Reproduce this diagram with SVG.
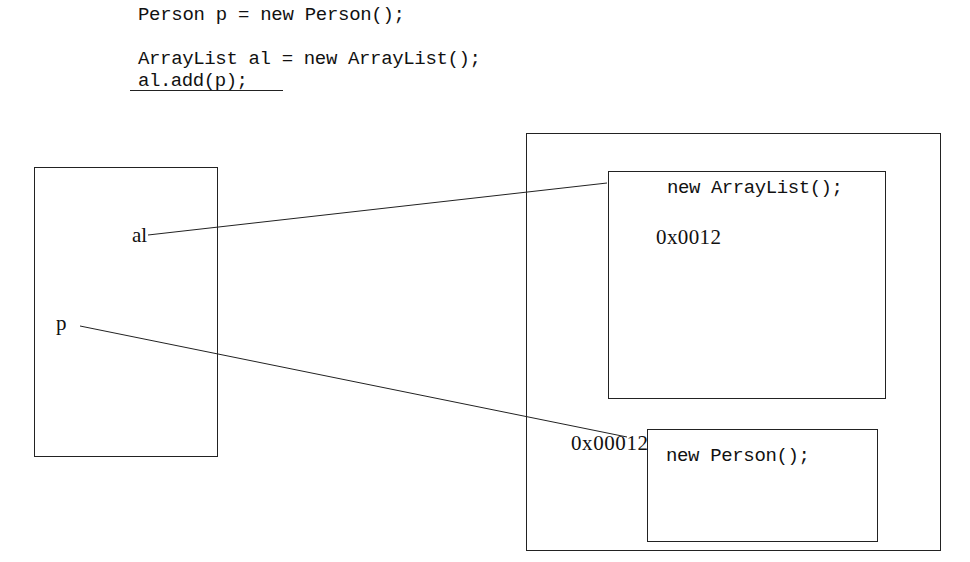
<svg xmlns="http://www.w3.org/2000/svg" width="970" height="562" viewBox="0 0 970 562">
<style>
text{font-family:"Liberation Mono","DejaVu Sans Mono",monospace;font-size:19px;fill:#111}
text.s{font-family:"Liberation Serif","Times New Roman",serif;font-size:21px}
.box{fill:none;stroke:#222;stroke-width:1}
.ln{stroke:#222;stroke-width:1;fill:none}
</style>
<rect width="970" height="562" fill="#fff"/>
<g id="code">
<text x="138" y="20" textLength="267" lengthAdjust="spacing">Person p = new Person();</text>
<text x="138" y="64" textLength="343" lengthAdjust="spacing">ArrayList al = new ArrayList();</text>
<text x="138" y="86" textLength="110" lengthAdjust="spacing">al.add(p);</text>
<line class="ln" x1="130" y1="90.5" x2="283" y2="90.5"/>
</g>
<g id="stack">
<rect class="box" x="34.5" y="167.5" width="183" height="289"/>
<text class="s" x="132" y="242">al</text>
<text class="s" x="56" y="330">p</text>
</g>
<g id="heap">
<rect class="box" x="526.5" y="133.5" width="414" height="417"/>
</g>
<g id="arraylist">
<rect class="box" x="608.5" y="171.5" width="277" height="227"/>
<text x="667" y="193" textLength="176" lengthAdjust="spacing">new ArrayList();</text>
<text class="s" x="656" y="244" textLength="65" lengthAdjust="spacing">0x0012</text>
</g>
<g id="person">
<rect class="box" x="647.5" y="429.5" width="230" height="112"/>
<text x="666" y="461" textLength="144" lengthAdjust="spacing">new Person();</text>
<text class="s" x="571" y="450" textLength="77" lengthAdjust="spacing">0x00012</text>
</g>
<g id="connectors">
<line class="ln" x1="148" y1="235" x2="607" y2="183"/>
<line class="ln" x1="80" y1="326" x2="627" y2="437"/>
</g>
</svg>
